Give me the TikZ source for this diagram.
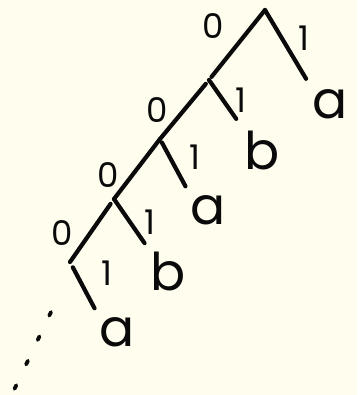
\documentclass[tikz,border=0pt]{standalone}
\usepackage{fontspec}
\setmainfont{Poppins}
\usepackage{tikz}
\usetikzlibrary{positioning,calc}
\definecolor{paper}{RGB}{255,253,238}
\definecolor{ink}{RGB}{10,10,10}
\tikzset{
  edge/.style={draw=ink,line width=4.2pt,line cap=round},
  leaf/.style={font=\fontsize{52}{52}\selectfont,text=ink,inner sep=0pt},
  bit/.style={font=\fontsize{34}{34}\selectfont,text=ink,inner sep=0pt}
}

\begin{document}
\begin{tikzpicture}[x=1pt,y=-1pt]
\fill[paper] (0,0) rectangle (357,395);
\useasboundingbox (0,0) rectangle (357,395);
% inner nodes of the trie
\coordinate (n0) at (265,10);
\coordinate (n1) at (209,80);
\coordinate (n2) at (160,139);
\coordinate (n3) at (114,199);
\coordinate (n4) at (70,262);
% leaves
\node[leaf] (a1) at (330,104) {a};
\node[leaf] (b1) at (262,150) {b};
\node[leaf] (a2) at (208,210) {a};
\node[leaf] (b2) at (168,271) {b};
\node[leaf] (a3) at (117,332) {a};
% edges
\draw[edge,shorten >=4pt] (n0) -- (n1);
\draw[edge,shorten >=12pt] (n0) -- (a1.north west);
\draw[edge,shorten <=5pt] (n1) -- (n2);
\draw[edge,shorten >=14pt] (n1) -- (b1.north west);
\draw[edge] (n2) -- (n3);
\draw[edge,shorten <=4pt,shorten >=10pt] (n2) -- (a2.north west);
\draw[edge,shorten <=6pt] (n3) -- (n4);
\draw[edge,shorten >=10pt] (n3) -- (b2.north west);
\draw[edge,shorten <=6pt,shorten >=10pt] (n4) -- (a3.north west);
% continuation dots
\coordinate (d0) at (51,312);
\coordinate (d1) at (14,390);
\draw[edge,line width=3.8pt,dash pattern=on 4pt off 23pt] (d0) -- (d1);
% edge labels
\node[bit] (l01) at (213,26) {0};
\node[bit] (l11) at (304,38) {1};
\node[bit] (l02) at (157,110) {0};
\node[bit] (l12) at (241,100) {1};
\node[bit] (l03) at (108,175) {0};
\node[bit] (l13) at (195,157) {1};
\node[bit] (l04) at (62,233) {0};
\node[bit] (l14) at (150,222) {1};
\node[bit] (l15) at (107,273) {1};
\end{tikzpicture}
\end{document}
